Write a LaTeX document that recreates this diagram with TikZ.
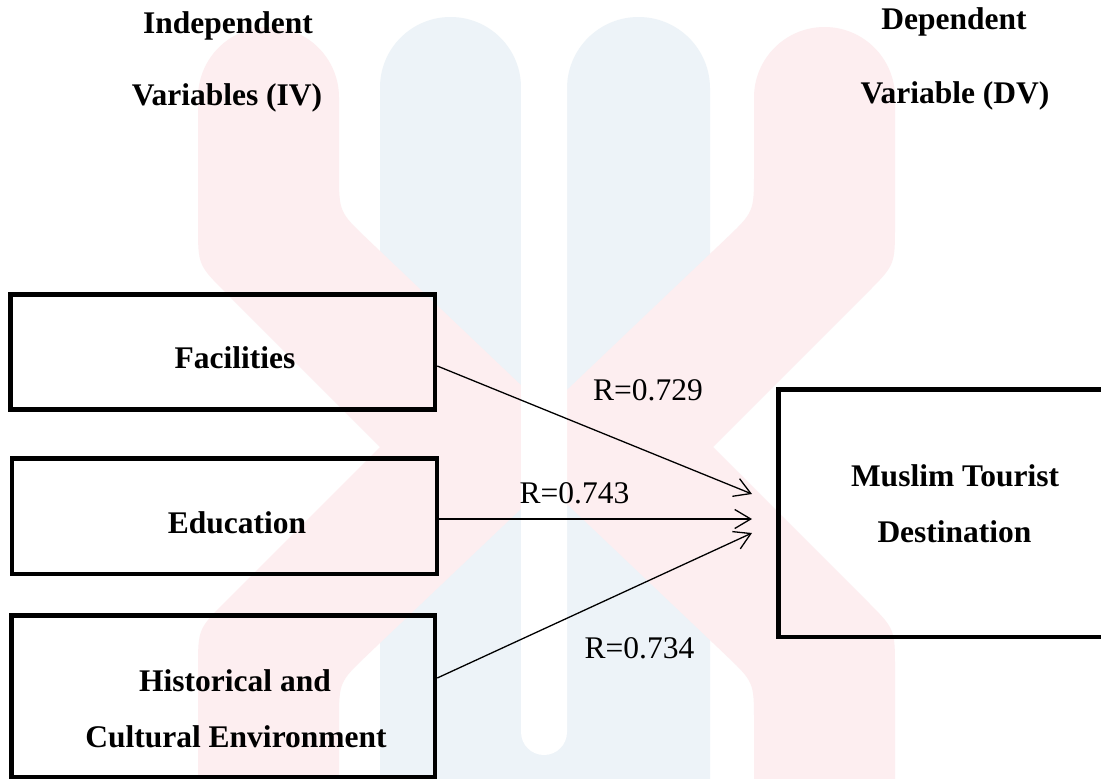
\documentclass[tikz,border=0pt]{standalone}
\usepackage{fontspec}
\setmainfont{Liberation Serif}
\usetikzlibrary{arrows.meta,calc}
\definecolor{wmred}{RGB}{253,238,240}
\definecolor{wmblue}{RGB}{237,243,248}
\tikzset{
  box/.style={draw=black, line width=4.5pt, inner sep=0pt},
  head/.style={font=\fontsize{31.5}{38}\selectfont\bfseries, inner sep=0pt, anchor=base},
  rlab/.style={font=\fontsize{31.5}{38}\selectfont, inner sep=0pt, anchor=base},
  arr/.style={line width=1.3pt, -{Straight Barb[length=16pt, width=19pt]}}
}
\begin{document}
\begin{tikzpicture}[x=1pt, y=-1pt]
\useasboundingbox (0,0) rectangle (1101,779);
\fill[white] (0,0) rectangle (1101,779);
% watermark: blue bars
\fill[wmblue] (380,800) -- (380,87.5) arc[start angle=180, end angle=0, radius=70.5pt] -- (521,800) -- cycle;
\fill[wmblue] (567,800) -- (567,88.5) arc[start angle=180, end angle=0, radius=71.5pt] -- (710,800) -- cycle;
\fill[wmblue] (515,700) rectangle (573,800);
% watermark: left red strand
\fill[wmred] (198,800) -- ($(198,629)!40pt!(198,800)$) .. controls (198,629) .. ($(198,629)!40pt!(380,447)$)
  -- (380,447) -- ($(198,265)!40pt!(380,447)$) .. controls (198,265) .. ($(198,265)!40pt!(198,97.5)$)
  -- (198,97.5) arc[start angle=180, end angle=0, radius=70.5pt]
  -- ($(339,212)!40pt!(339,97.5)$) .. controls (339,212) .. ($(339,212)!40pt!(586,447)$)
  -- ($(586,447)!30pt!(339,212)$) .. controls (586,447) .. ($(586,447)!30pt!(339,682)$)
  -- ($(339,682)!40pt!(586,447)$) .. controls (339,682) .. ($(339,682)!40pt!(339,800)$)
  -- (339,800) -- cycle;
% watermark: right red strand
\fill[wmred] (895,800) -- ($(895,629)!40pt!(895,800)$) .. controls (895,629) .. ($(895,629)!40pt!(713,447)$)
  -- (713,447) -- ($(895,265)!40pt!(713,447)$) .. controls (895,265) .. ($(895,265)!40pt!(895,97.5)$)
  -- (895,97.5) arc[start angle=0, end angle=180, radius=70.5pt]
  -- ($(754,212)!40pt!(754,97.5)$) .. controls (754,212) .. ($(754,212)!40pt!(507,447)$)
  -- ($(507,447)!30pt!(754,212)$) .. controls (507,447) .. ($(507,447)!30pt!(754,682)$)
  -- ($(754,682)!40pt!(507,447)$) .. controls (754,682) .. ($(754,682)!40pt!(754,800)$)
  -- (754,800) -- cycle;
% watermark: central gap
\fill[white] (521,-10) -- (521,732) arc[start angle=180, end angle=360, radius=23pt] -- (567,-10) -- cycle;

% headings
\node[head] (iv1) at (228,33) {Independent};
\node[head] (iv2) at (227,105) {Variables (IV)};
\node[head] (dv1) at (954,30) {Dependent};
\node[head] (dv2) at (955,103) {Variable (DV)};

% boxes
\node[box, minimum width=424.5pt, minimum height=115pt] (fac) at (222.75,352) {};
\node[box, minimum width=425pt, minimum height=115.5pt] (edu) at (224.5,516.25) {};
\node[box, minimum width=423.5pt, minimum height=161.5pt] (hist) at (223.25,696.25) {};
\node[box, minimum width=353pt, minimum height=247.5pt] (mtd) at (955,513.25) {};

% box texts
\node[head] (tfac) at (235,368) {Facilities};
\node[head] (tedu) at (237,533) {Education};
\node[head] (thist1) at (235,691) {Historical and};
\node[head] (thist2) at (236,747) {Cultural Environment};
\node[head] (tmtd1) at (955,486) {Muslim Tourist};
\node[head] (tmtd2) at (954.5,542) {Destination};

% arrows
\coordinate (t1) at (752,494);
\coordinate (t2) at (752,519);
\coordinate (t3) at (752,533);
\draw[arr] ([yshift=-14pt]fac.east) -- (t1);
\draw[arr] ([yshift=-2.75pt]edu.east) -- (t2);
\draw[arr] ([yshift=18.25pt]hist.east) -- (t3);

% labels
\node[rlab] (r1) at (648,400) {R=0.729};
\node[rlab] (r2) at (574.5,503) {R=0.743};
\node[rlab] (r3) at (639.5,658) {R=0.734};
\end{tikzpicture}
\end{document}
